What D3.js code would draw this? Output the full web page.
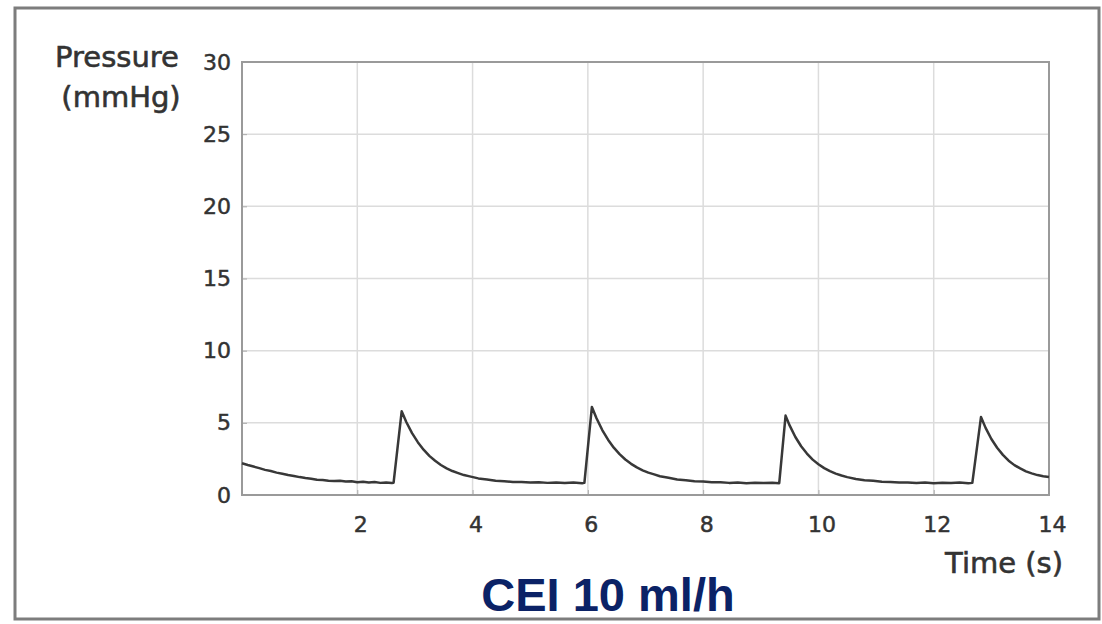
<!DOCTYPE html>
<html>
    <head>
        <meta charset="utf-8">
        <title>CEI 10 ml/h</title>
        <script src="https://d3js.org/d3.v7.min.js"></script>
        <style>
            body { margin: 0; background: #fff; }
        </style>
    </head>
    <body>
        <div id="my_dataviz"></div>

        <script>

            // pressure trace
            var timeS = [0,0.1,0.2,0.3,0.4,0.5,0.6,0.7,0.8,0.9,1.0,1.1,1.2,1.3,1.4,1.5,1.6,1.7,1.8,1.9,2.0,2.1,2.2,2.3,2.4,2.5,2.6,2.63,
                2.77,2.85,2.95,3.05,3.15,3.25,3.35,3.45,3.55,3.65,3.75,3.85,3.95,4.1,4.25,4.4,4.55,4.7,4.85,5.0,5.15,5.3,5.45,5.6,5.75,5.9,5.94,
                6.07,6.15,6.25,6.35,6.45,6.55,6.65,6.75,6.85,6.95,7.05,7.15,7.25,7.4,7.55,7.7,7.85,8.0,8.15,8.3,8.45,8.6,8.75,8.9,9.05,9.2,9.32,
                9.43,9.5,9.6,9.7,9.8,9.9,10.0,10.1,10.2,10.3,10.4,10.5,10.65,10.8,10.95,11.1,11.25,11.4,11.55,11.7,11.85,12.0,12.15,12.3,12.45,12.6,12.67,
                12.82,12.9,13.0,13.1,13.2,13.3,13.4,13.5,13.6,13.7,13.8,13.9,14.0];
            var pressure = [2.2,2.08,1.97,1.86,1.74,1.66,1.55,1.47,1.38,1.32,1.24,1.18,1.13,1.06,1.04,0.99,0.97,0.99,0.93,0.95,0.89,0.92,0.86,0.9,0.84,0.87,0.83,0.85,
                5.8,5.06,4.29,3.66,3.14,2.71,2.37,2.08,1.85,1.66,1.52,1.38,1.29,1.15,1.08,0.99,0.96,0.9,0.9,0.86,0.88,0.84,0.87,0.83,0.86,0.82,0.84,
                6.1,5.32,4.5,3.83,3.28,2.83,2.46,2.16,1.91,1.71,1.55,1.43,1.3,1.19,1.08,1.02,0.95,0.93,0.88,0.88,0.84,0.86,0.82,0.85,0.83,0.85,0.82,
                5.5,4.82,4.02,3.38,2.87,2.45,2.13,1.86,1.65,1.48,1.35,1.24,1.11,1.02,0.98,0.91,0.9,0.86,0.87,0.83,0.86,0.82,0.85,0.83,0.86,0.82,0.84,
                5.4,4.65,3.88,3.27,2.78,2.38,2.07,1.84,1.64,1.5,1.38,1.3,1.25];

            var xTicks = [2, 4, 6, 8, 10, 12, 14];
            var yTicks = [0, 5, 10, 15, 20, 25, 30];

            var W = 1102, H = 624;
            var plot = {left: 242, top: 62, right: 1049, bottom: 495};

            var svg = d3.select("#my_dataviz")
              .append("svg")
                .attr("width", W)
                .attr("height", H);

            // outer frame
            svg.append("rect")
                .attr("x", 15).attr("y", 8)
                .attr("width", 1084).attr("height", 611)
                .attr("fill", "#fff")
                .attr("stroke", "#7d7d7d")
                .attr("stroke-width", 3);

            var x = d3.scaleLinear()
                .domain([0, 14])
                .range([plot.left, plot.right]);
            var y = d3.scaleLinear()
                .domain([0, 30])
                .range([plot.bottom, plot.top]);

            // grid
            svg.append("g")
                .selectAll("line")
                .data(xTicks.slice(0, -1))
                .enter()
                .append("line")
                  .attr("x1", function (d) { return x(d); })
                  .attr("x2", function (d) { return x(d); })
                  .attr("y1", plot.top).attr("y2", plot.bottom)
                  .attr("stroke", "#dcdcdc")
                  .attr("stroke-width", 1.5);
            svg.append("g")
                .selectAll("line")
                .data(yTicks.slice(1, -1))
                .enter()
                .append("line")
                  .attr("y1", function (d) { return y(d); })
                  .attr("y2", function (d) { return y(d); })
                  .attr("x1", plot.left).attr("x2", plot.right)
                  .attr("stroke", "#dcdcdc")
                  .attr("stroke-width", 1.5);

            // axes (inward ticks)
            svg.append("g")
                .attr("transform", "translate(0," + plot.bottom + ")")
                .call(d3.axisBottom(x).tickValues(xTicks).tickSize(-5).tickPadding(21))
                .call(function (g) {
                    g.select(".domain").remove();
                    g.selectAll("line").attr("stroke", "#aaa");
                    g.selectAll("text")
                        .attr("dx", 3)
                        .attr("font-family", "DejaVu Sans")
                        .attr("font-size", 22)
                        .attr("fill", "#333")
                        .attr("stroke", "#333")
                        .attr("stroke-width", 0.5);
                });
            svg.append("g")
                .attr("transform", "translate(" + plot.left + ",0)")
                .call(d3.axisLeft(y).tickValues(yTicks).tickSize(-5).tickPadding(11))
                .call(function (g) {
                    g.select(".domain").remove();
                    g.selectAll("line").attr("stroke", "#aaa");
                    g.selectAll("text")
                        .attr("font-family", "DejaVu Sans")
                        .attr("font-size", 22)
                        .attr("fill", "#333")
                        .attr("stroke", "#333")
                        .attr("stroke-width", 0.5);
                });

            // plot box
            svg.append("rect")
                .attr("x", plot.left).attr("y", plot.top)
                .attr("width", plot.right - plot.left)
                .attr("height", plot.bottom - plot.top)
                .attr("fill", "none")
                .attr("stroke", "#9a9a9a")
                .attr("stroke-width", 2);

            // trace
            var line = d3.line()
                .x(function (d, i) { return x(timeS[i]); })
                .y(function (d) { return y(d); });
            svg.append("path")
                .datum(pressure)
                .attr("d", line)
                .attr("fill", "none")
                .attr("stroke", "#383838")
                .attr("stroke-width", 2.5)
                .attr("stroke-linejoin", "round");

            // labels
            function axisLabel(text, xPos, yPos, anchor) {
                svg.append("text")
                    .attr("x", xPos).attr("y", yPos)
                    .attr("text-anchor", anchor)
                    .attr("font-family", "DejaVu Sans")
                    .attr("font-size", 29)
                    .attr("fill", "#333")
                    .attr("stroke", "#333")
                    .attr("stroke-width", 0.6)
                    .text(text);
            }
            axisLabel("Pressure", 117, 67, "middle");
            axisLabel("(mmHg)", 121, 107, "middle");
            axisLabel("Time (s)", 1063, 573, "end");

            svg.append("text")
                .attr("x", 608).attr("y", 611)
                .attr("text-anchor", "middle")
                .attr("font-family", "Liberation Sans, Arial, sans-serif")
                .attr("font-weight", "bold")
                .attr("font-size", 47)
                .attr("fill", "#0b2266")
                .text("CEI 10 ml/h");

        </script>
    </body>
</html>
